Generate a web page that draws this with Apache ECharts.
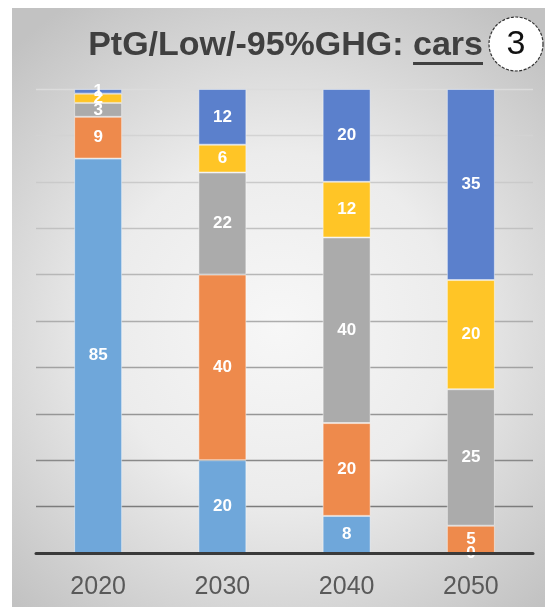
<!DOCTYPE html>
<html>
<head>
<meta charset="utf-8">
<script src="https://cdn.jsdelivr.net/npm/echarts@6/dist/echarts.min.js"></script>
<style>
  html, body { margin: 0; padding: 0; background: #ffffff; }
  #chart { width: 545px; height: 607px; }
</style>
</head>
<body>
<div id="chart"></div>
<script>
// Years on the category axis
const years = ['2020', '2030', '2040', '2050'];

// Car stock by drive type, per year (stacked bottom to top)
const lightBlueVals = [85, 20, 8, 0];
const orangeVals    = [9, 40, 20, 5];
const grayVals      = [3, 22, 40, 25];
const yellowVals    = [2, 6, 12, 20];
const blueVals      = [1, 12, 20, 35];

// Value axis ticks (share in %)
const axisMin = 0;
const axisMax = 100;
const axisStep = 10;

const titleMain = 'PtG/Low/-95%GHG: ';
const titleTail = 'cars';
const badge = '3';

const seriesDefs = [
  { name: 'lightBlue', values: lightBlueVals, color: '#6FA7DA' },
  { name: 'orange',    values: orangeVals,    color: '#EE8A4C' },
  { name: 'gray',      values: grayVals,      color: '#ABABAB' },
  { name: 'yellow',    values: yellowVals,    color: '#FFC526' },
  { name: 'blue',      values: blueVals,      color: '#5B80CC' }
];

// Each bar is shown as a share of its year's total
const totals = years.map((_, i) => seriesDefs.reduce((s, d) => s + d.values[i], 0));

const series = seriesDefs.map(d => ({
  name: d.name,
  type: 'bar',
  stack: 'total',
  barWidth: 48,
  data: d.values.map((v, i) => ({ value: v / totals[i] * 100, raw: v })),
  itemStyle: {
    color: d.color,
    borderColor: 'rgba(255,255,255,0.45)',
    borderWidth: 1
  },
  label: {
    show: true,
    position: 'inside',
    color: '#ffffff',
    fontFamily: 'Liberation Sans, Arial, sans-serif',
    fontWeight: 'bold',
    fontSize: 17,
    formatter: p => String(p.data.raw)
  },
  emphasis: { disabled: true }
}));

// Measure the underlined word to size its underline
const titleFont = 'bold 34px "Liberation Sans", Arial, sans-serif';
const ctx = document.createElement('canvas').getContext('2d');
ctx.font = titleFont;
const tailW = ctx.measureText(titleTail).width;
const titleRight = 483;

const chart = echarts.init(document.getElementById('chart'), null, { renderer: 'canvas' });

chart.setOption({
  animation: false,
  backgroundColor: '#ffffff',
  grid: { left: 36, right: 12, top: 89, bottom: 54, containLabel: false },
  xAxis: {
    type: 'category',
    data: years,
    axisLine: { show: true, lineStyle: { color: '#3a3a3a', width: 3 } },
    axisTick: { show: false },
    axisLabel: {
      color: '#595959',
      fontSize: 25,
      fontFamily: 'Liberation Sans, Arial, sans-serif',
      margin: 22
    },
    z: 5
  },
  yAxis: {
    type: 'value',
    min: axisMin,
    max: axisMax,
    interval: axisStep,
    axisLine: { show: false },
    axisTick: { show: false },
    axisLabel: { show: false },
    splitLine: {
      show: true,
      lineStyle: {
        width: 1.3,
        color: ['#555555', '#7c7c7c', '#898989', '#969696', '#a2a2a2', '#adadad',
                '#b7b7b7', '#c1c1c1', '#cacaca', '#d3d3d3', '#dcdcdc']
      }
    }
  },
  graphic: [
    {
      type: 'rect',
      z: -10,
      silent: true,
      shape: { x: 12, y: 8, width: 533, height: 599 },
      style: {
        fill: {
          type: 'radial', x: 0.5, y: 0.53, r: 0.72,
          colorStops: [
            { offset: 0, color: '#f7f7f7' },
            { offset: 0.45, color: '#ececec' },
            { offset: 1, color: '#c2c2c2' }
          ]
        }
      }
    },
    {
      type: 'text',
      silent: true,
      style: {
        x: titleRight, y: 46,
        text: titleMain + titleTail,
        font: titleFont,
        fill: '#404040',
        align: 'right',
        verticalAlign: 'middle'
      }
    },
    {
      type: 'rect',
      silent: true,
      shape: { x: titleRight - tailW, y: 62, width: tailW, height: 3 },
      style: { fill: '#404040' }
    },
    {
      type: 'circle',
      silent: true,
      shape: { cx: 516, cy: 44, r: 27 },
      style: { fill: '#ffffff', stroke: '#333333', lineWidth: 1.2, lineDash: [3, 1.5] }
    },
    {
      type: 'text',
      silent: true,
      style: {
        x: 516, y: 45,
        text: badge,
        font: '34px "Liberation Sans", Arial, sans-serif',
        fill: '#111111',
        align: 'center',
        verticalAlign: 'middle'
      }
    }
  ],
  series: series
});
</script>
</body>
</html>
